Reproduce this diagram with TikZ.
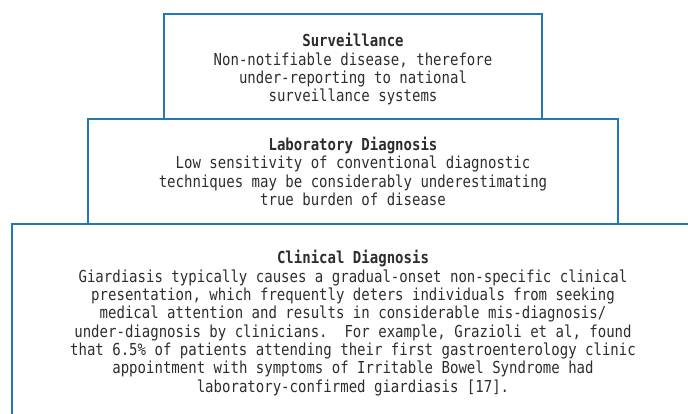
\documentclass[tikz,border=0pt]{standalone}
\usepackage{fontspec}
\setmonofont{DejaVu Sans Mono}[FakeStretch=0.85]
\usetikzlibrary{positioning}

\definecolor{tierblue}{RGB}{35,120,180}
\definecolor{tiertext}{RGB}{45,45,45}

\begin{document}
\begin{tikzpicture}[x=1pt, y=1pt, semithick]

    \tikzstyle{tier} = [rectangle, draw=tierblue, line width=1.5pt, minimum height=105pt, inner sep=0pt]
    \tikzstyle{tiertxt} = [align=center, text=tiertext, inner sep=0pt, font=\ttfamily\fontsize{16.5}{18.3}\selectfont]

    \clip (0,0) rectangle (688,414);

    \node (surv)  [tier, minimum width=378pt] at (353,347.5) {};
    \node (lab)   [tier, minimum width=530pt, below=-1.5pt of surv] {};
    \node (clin)  [tier, minimum width=682pt, minimum height=200pt, below=-1.5pt of lab] {};

    \node (survtxt) [tiertxt, below=20pt of surv.north] {\textbf{Surveillance}\\
        Non-notifiable disease, therefore\\
        under-reporting to national\\
        surveillance systems};

    \node (labtxt)  [tiertxt, below=18.5pt of lab.north] {\textbf{Laboratory Diagnosis}\\
        Low sensitivity of conventional diagnostic\\
        techniques may be considerably underestimating\\
        true burden of disease};

    \node (clintxt) [tiertxt, below=27pt of clin.north] {\textbf{Clinical Diagnosis}\\
        Giardiasis typically causes a gradual-onset non-specific clinical\\
        presentation, which frequently deters individuals from seeking\\
        medical attention and results in considerable mis-diagnosis/\\
        under-diagnosis by clinicians.~ For example, Grazioli et al, found\\
        that 6.5\% of patients attending their first gastroenterology clinic\\
        appointment with symptoms of Irritable Bowel Syndrome had\\
        laboratory-confirmed giardiasis [17].};

\end{tikzpicture}
\end{document}
